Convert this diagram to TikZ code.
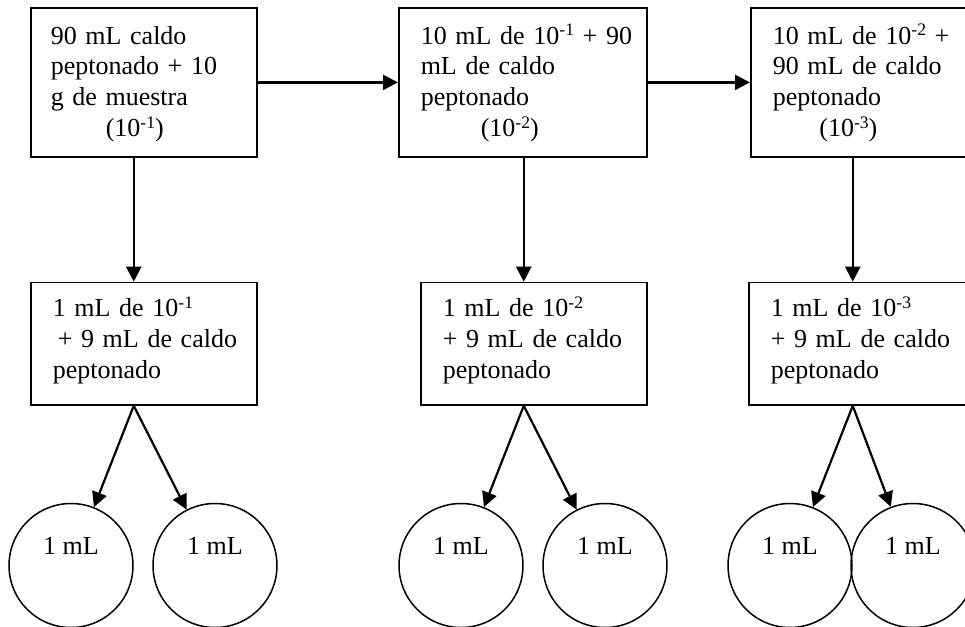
\documentclass[tikz,border=0pt]{standalone}
\usepackage{fontspec}
\setmainfont{Liberation Serif}
\usetikzlibrary{arrows.meta}
\newcommand\pot[1]{\raisebox{4.2pt}{\fontsize{8.8}{8.8}\selectfont #1}}
\tikzset{
  tubo/.style={
    draw, line width=0.75pt,
    anchor=north west, inner sep=0pt,
    execute at begin node={\leftskip=11pt\relax},
    font=\fontsize{13}{15.4}\selectfont,
  },
  tubo arriba/.style={
    tubo, text height=18pt, text depth=56.35pt,
  },
  tubo abajo/.style={
    tubo, text height=17.15pt, text depth=44.15pt,
    text width=113pt,
  },
  placa/.style={
    circle, draw, line width=0.75pt,
    minimum size=62pt, inner sep=0pt,
    text height=8.5pt, text depth=19.5pt,
    font=\fontsize{13}{15.4}\selectfont,
  },
  flecha/.style={
    -{Triangle[length=7.5pt,width=7.5pt]},
    line width=1.1pt,
  },
}

\begin{document}
\begin{tikzpicture}[x=0.5pt, y=-0.5pt]
\useasboundingbox (0,0) rectangle (965,627);
\clip (0,0) rectangle (965,627);

% diluciones
\node[tubo arriba, text width=113pt,
  execute at begin node={\leftskip=10pt\relax}] (d1) at (30,7.3)
  {90 mL caldo\\ peptonado + 10\\ g de muestra\\ \hspace*{27.5pt}(10\pot{-1})};
\node[tubo arriba, text width=124pt] (d2) at (398,7.3)
  {10 mL de 10\pot{-1} + 90\\ mL de caldo\\ peptonado\\ \hspace*{30pt}(10\pot{-2})};
\node[tubo arriba, text width=124pt] (d3) at (750,7.3)
  {10 mL de 10\pot{-2} +\\ 90 mL de caldo\\ peptonado\\ \hspace*{23.3pt}(10\pot{-3})};

\node[tubo abajo] (t1) at (30,281.7)
  {1 mL de 10\pot{-1}\\ \hspace*{2.5pt}+ 9 mL de caldo\\ peptonado};
\node[tubo abajo] (t2) at (420,281.7)
  {1 mL de 10\pot{-2}\\ + 9 mL de caldo\\ peptonado};
\node[tubo abajo] (t3) at (748,281.7)
  {1 mL de 10\pot{-3}\\ + 9 mL de caldo\\ peptonado};

\coordinate (s1) at ([xshift=-5pt]t1.south);
\coordinate (s2) at ([xshift=-5pt]t2.south);
\coordinate (s3) at ([xshift=-4.5pt]t3.south);

% placas
\foreach \i/\l/\r in {1/71/215, 2/461/605, 3/790/913} {
  \node[placa] (p-\i-1) at (\l,565.5) {1 mL};
  \node[placa] (p-\i-2) at (\r,565.5) {1 mL};
  \draw[flecha] (s\i) -- (p-\i-1);
  \draw[flecha] (s\i) -- (p-\i-2);
  \draw[flecha] (d\i.south -| s\i) -- (t\i.north -| s\i);
}

\draw[flecha] (d1.east) -- (d2.west);
\draw[flecha] (d2.east) -- (d3.west);
\end{tikzpicture}
\end{document}
